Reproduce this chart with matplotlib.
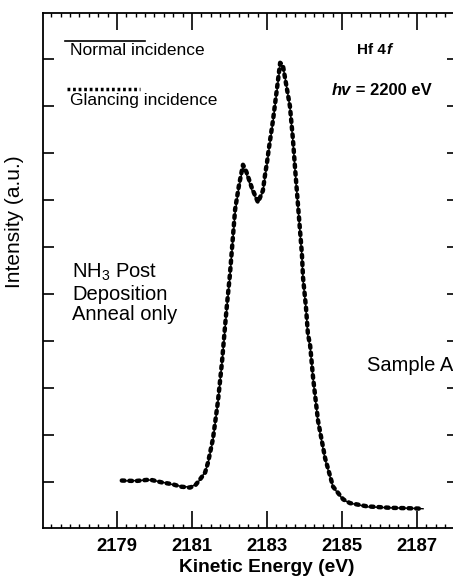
import matplotlib
matplotlib.use('Agg')
import matplotlib.pyplot as plt
from matplotlib.ticker import MultipleLocator, NullFormatter

plt.rcParams['font.family'] = ['Liberation Sans', 'DejaVu Sans']
plt.rcParams['mathtext.fontset'] = 'custom'
plt.rcParams['mathtext.rm'] = 'Liberation Sans'

# Hf 4f spectrum (kinetic energy in eV, intensity in a.u.)
energy = [2179.13, 2179.5, 2179.88, 2180.2, 2180.49, 2180.7, 2180.95, 2181.1,
          2181.21, 2181.35, 2181.43, 2181.56, 2181.69, 2181.8, 2181.88, 2181.93,
          2182.01, 2182.09, 2182.15, 2182.25, 2182.36, 2182.45, 2182.6, 2182.76,
          2182.89, 2182.95, 2183.0, 2183.05, 2183.16, 2183.27, 2183.35, 2183.42,
          2183.48, 2183.61, 2183.69, 2183.75, 2183.8, 2183.85, 2183.88, 2183.93,
          2183.96, 2184.04, 2184.09, 2184.15, 2184.23, 2184.36, 2184.55, 2184.76,
          2185.03, 2185.21, 2185.67, 2186.28, 2186.8, 2187.16]
normal = [0.02, 0.03, 0.04, 0.0, -0.06, -0.09, -0.11, -0.05,
          0.04, 0.22, 0.40, 0.89, 1.68, 2.53, 3.23, 3.70,
          4.35, 5.15, 5.72, 6.25, 6.70, 6.55, 6.20, 5.94,
          6.17, 6.50, 6.75, 7.06, 7.66, 8.35, 8.87, 8.85,
          8.62, 7.98, 7.25, 6.60, 6.10, 5.60, 5.30, 4.80,
          4.30, 3.66, 3.09, 2.87, 2.17, 1.26, 0.47, -0.11,
          -0.38, -0.45, -0.53, -0.55, -0.56, -0.57]
glancing = [0.03, 0.02, 0.05, -0.01, -0.05, -0.10, -0.12, -0.06,
            0.05, 0.20, 0.42, 0.92, 1.70, 2.55, 3.30, 3.75,
            4.40, 5.20, 5.80, 6.30, 6.75, 6.60, 6.25, 5.95,
            6.20, 6.55, 6.80, 7.10, 7.70, 8.40, 8.92, 8.88,
            8.60, 8.00, 7.30, 6.65, 6.15, 5.65, 5.35, 4.85,
            4.35, 3.70, 3.15, 2.90, 2.20, 1.30, 0.50, -0.10,
            -0.37, -0.45, -0.52, -0.55, -0.56, -0.57]

x_major = [2179, 2181, 2183, 2185, 2187]
y_major = [0, 1, 2, 3, 4, 5, 6, 7, 8, 9]

fig = plt.figure(figsize=(4.53, 5.78), dpi=100)
ax = fig.add_axes([43 / 453, 50 / 578, 415 / 453, 515 / 578])

ax.plot(energy, normal, color='black', lw=1.0)
ax.plot(energy, glancing, color='black', lw=3.2, ls=(0, (0.6, 1.1)),
        dash_capstyle='round')

ax.set_xlim(2177.03, 2188.09)
ax.set_ylim(-0.98, 9.98)

ax.set_xticks(x_major)
ax.xaxis.set_minor_locator(MultipleLocator(0.25))
ax.set_yticks(y_major)
ax.yaxis.set_major_formatter(NullFormatter())
ax.tick_params(axis='x', which='major', direction='in', length=12, width=1.2,
               top=True, labelsize=13.3, pad=7)
ax.tick_params(axis='x', which='minor', direction='in', length=3, width=1.0,
               top=True)
ax.tick_params(axis='y', which='major', direction='in', length=8, width=1.2,
               right=True)
for lab in ax.get_xticklabels():
    lab.set_fontweight('bold')
for sp in ax.spines.values():
    sp.set_linewidth(1.3)

ax.set_xlabel('Kinetic Energy (eV)', fontsize=13.8, fontweight='bold')
ax.xaxis.set_label_coords(0.54, -0.060)
ax.set_ylabel('Intensity (a.u.)', fontsize=15)
ax.yaxis.set_label_coords(-0.046, 0.594)

# legend drawn by hand: sample line above each label
ax.plot([0.053, 0.246], [0.946, 0.946], transform=ax.transAxes,
        color='black', lw=1.2)
ax.plot([0.058, 0.234], [0.852, 0.852], transform=ax.transAxes,
        color='black', lw=2.5, ls=(0, (0.8, 0.8)))
ax.text(0.065, 0.928, 'Normal incidence', transform=ax.transAxes,
        fontsize=12.5, va='center')
ax.text(0.065, 0.831, 'Glancing incidence', transform=ax.transAxes,
        fontsize=12.5, va='center')

t1 = ax.text(0.757, 0.928, 'Hf 4', transform=ax.transAxes, fontsize=11,
             fontweight='bold', va='center')
ax.annotate('f', xy=(1, 0), xycoords=t1, fontsize=11, fontweight='bold',
            fontstyle='italic', va='bottom')
t2 = ax.text(0.696, 0.850, 'hv', transform=ax.transAxes, fontsize=12,
             fontweight='bold', fontstyle='italic', va='center')
ax.annotate(' = 2200 eV', xy=(1, 0), xycoords=t2, fontsize=12,
            fontweight='bold', va='bottom')

ax.text(0.070, 0.456, 'NH$_3$ Post\nDeposition\nAnneal only',
        transform=ax.transAxes, fontsize=14.5, va='center', linespacing=1.1)
ax.text(0.781, 0.315, 'Sample A', transform=ax.transAxes, fontsize=14.5,
        va='center', clip_on=False)

fig.savefig('out.png', dpi=100)
